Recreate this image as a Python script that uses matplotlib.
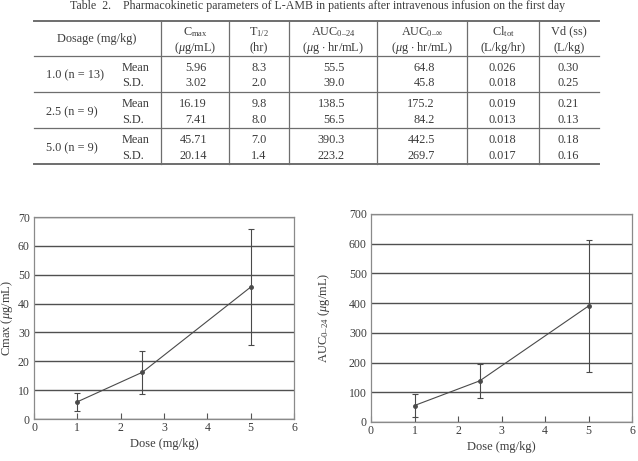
import matplotlib
matplotlib.use("Agg")
import matplotlib.pyplot as plt

plt.rcParams["font.family"] = ["Liberation Serif", "DejaVu Serif"]
plt.rcParams["mathtext.fontset"] = "custom"
plt.rcParams["mathtext.rm"] = "Liberation Serif"
plt.rcParams["mathtext.it"] = "Liberation Serif:italic"

# data from table 2
doses = [1.0, 2.5, 5.0]
n_patients = [13, 9, 9]
cmax_mean = [5.96, 16.19, 45.71]
cmax_sd = [3.02, 7.41, 20.14]
thalf_mean = [8.3, 9.8, 7.0]
thalf_sd = [2.0, 8.0, 1.4]
auc24_mean = [55.5, 138.5, 390.3]
auc24_sd = [39.0, 56.5, 223.2]
aucinf_mean = [64.8, 175.2, 442.5]
aucinf_sd = [45.8, 84.2, 269.7]
cl_mean = [0.026, 0.019, 0.018]
cl_sd = [0.018, 0.013, 0.017]
vd_mean = [0.30, 0.21, 0.18]
vd_sd = [0.25, 0.13, 0.16]

col_headers = [
    (r"C$_{\rm max}$", r"($\mu$g/mL)"),
    (r"T$_{\rm 1/2}$", "(hr)"),
    (r"AUC$_{\rm 0\endash24}$", r"($\mu$g $\cdot$ hr/mL)"),
    (r"AUC$_{\rm 0\endash\infty}$", r"($\mu$g $\cdot$ hr/mL)"),
    (r"Cl$_{\rm tot}$", "(L/kg/hr)"),
    ("Vd (ss)", "(L/kg)"),
]

TXT = "#3c3c3c"
LINE = "#6e6e6e"
W, H = 638, 461
FS = 8.8

fig = plt.figure(figsize=(W / 100, H / 100), dpi=100)

# ---- table drawn in pixel coordinates ----
tab = fig.add_axes([0, 0, 1, 1])
tab.set_xlim(0, W)
tab.set_ylim(H, 0)
tab.axis("off")

tab.text(70, 8.5, "Table  2.    Pharmacokinetic parameters of L-AMB in patients after intravenous infusion on the first day",
         fontsize=8.55, color=TXT, va="baseline", ha="left")

left, right = 34, 599
hlines = [20.7, 56, 92.3, 128.3, 164.3]
for i, y in enumerate(hlines):
    lw = 1.4 if i in (0, len(hlines) - 1) else 0.9
    tab.plot([left, right], [y, y], color=LINE, lw=lw)
for x in [161.3, 229, 288.7, 377.3, 466.7, 538.7]:
    tab.plot([x, x], [hlines[0], hlines[-1]], color=LINE, lw=0.9)

tab.text(97, 39.3, "Dosage (mg/kg)", fontsize=FS, color=TXT, ha="center", va="center")
col_centers = [195, 259, 333, 422, 503, 569]
for cx, (h1, h2) in zip(col_centers, col_headers):
    tab.text(cx, 31.7, h1, fontsize=FS, color=TXT, ha="center", va="center")
    tab.text(cx, 47.7, h2, fontsize=FS, color=TXT, ha="center", va="center")

columns = [
    (cmax_mean, cmax_sd, "{:.2f}", 207, "right"),
    (thalf_mean, thalf_sd, "{:.1f}", 259, "center"),
    (auc24_mean, auc24_sd, "{:.1f}", 345, "right"),
    (aucinf_mean, aucinf_sd, "{:.1f}", 434.7, "right"),
    (cl_mean, cl_sd, "{:.3f}", 502.5, "center"),
    (vd_mean, vd_sd, "{:.2f}", 568, "center"),
]
for r, (d, n) in enumerate(zip(doses, n_patients)):
    top = hlines[r + 1]
    y_mean = top + 11.7
    y_sd = top + 27.3
    tab.text(45.7, (y_mean + y_sd) / 2, f"{d:.1f} (n = {n})", fontsize=FS, color=TXT, ha="left", va="center")
    tab.text(122, y_mean, "Mean", fontsize=FS, color=TXT, ha="left", va="center")
    tab.text(122, y_sd, "S.D.", fontsize=FS, color=TXT, ha="left", va="center")
    for means, sds, fmt, x, ha in columns:
        tab.text(x, y_mean, fmt.format(means[r]), fontsize=FS, color=TXT, ha=ha, va="center")
        tab.text(x, y_sd, fmt.format(sds[r]), fontsize=FS, color=TXT, ha=ha, va="center")


# ---- the two dose plots ----
def dose_plot(rect, means, sds, ymax, ystep, ylabel, label_x):
    ax = fig.add_axes(rect)
    ax.errorbar(doses, means, yerr=sds, color="#4a4a4a", lw=0.8, marker="o", ms=2.5,
                capsize=2.3, elinewidth=0.8, capthick=0.8, zorder=3)
    ax.set_xlim(0, 6)
    ax.set_ylim(0, ymax)
    ax.set_yticks(range(0, ymax + 1, ystep))
    ax.set_xticks(range(0, 7))
    ax.yaxis.grid(True, color="#505050", lw=1.0)
    ax.set_axisbelow(True)
    for s in ax.spines.values():
        s.set_color("#8a8a8a")
        s.set_linewidth(0.9)
    ax.tick_params(axis="x", direction="in", length=4, width=0.8, color="#555555",
                   labelsize=8.5, labelcolor=TXT, pad=2)
    ax.tick_params(axis="y", direction="in", length=0, labelsize=8.5, labelcolor=TXT, pad=3)
    ax.set_xlabel("Dose (mg/kg)", fontsize=9, color=TXT, labelpad=3)
    ax.set_ylabel(ylabel, fontsize=9, color=TXT)
    ax.yaxis.set_label_coords(label_x, 0.5)
    return ax


dose_plot([34 / W, 1 - 419 / H, (294 - 34) / W, (419 - 217) / H],
          cmax_mean, cmax_sd, 70, 10, r"Cmax ($\mu$g/mL)", (15 - 34) / 260)
dose_plot([371 / W, 1 - 422 / H, (632 - 371) / W, (422 - 214) / H],
          auc24_mean, auc24_sd, 700, 100, r"AUC$_{\rm 0\endash24}$ ($\mu$g/mL)", (332 - 371) / 261)

fig.savefig("out.png", dpi=100)
